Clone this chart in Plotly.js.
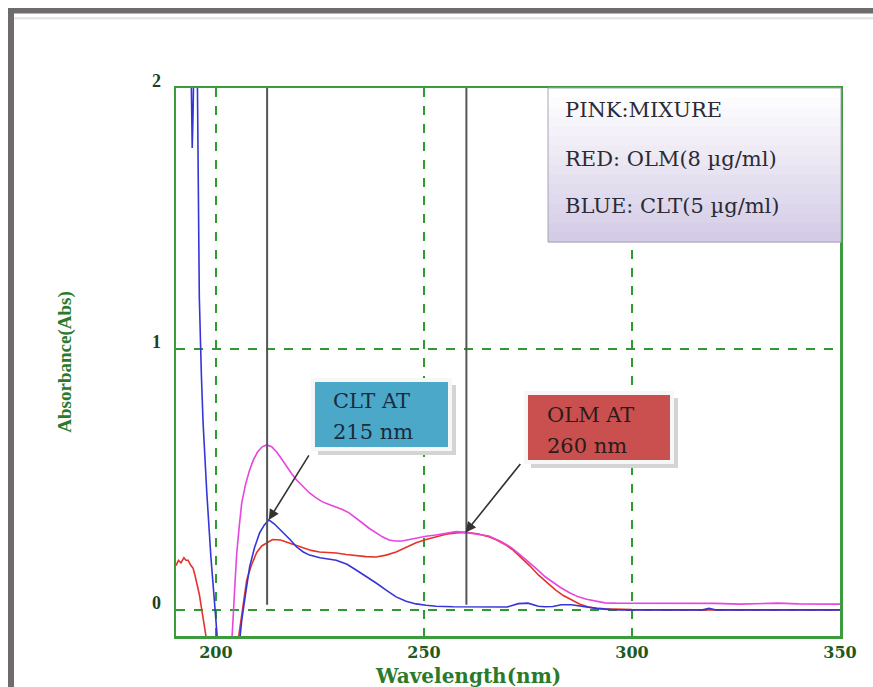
<!DOCTYPE html>
<html>
<head>
<meta charset="utf-8">
<script src="https://cdn.plot.ly/plotly-3.0.1.min.js"></script>
<style>
html,body{margin:0;padding:0;background:#fff;}
#chart{width:873px;height:687px;}
</style>
</head>
<body>
<div id="chart"></div>
<script>
// ---- DATA ----
const blueX = [194.0,194.3,194.5,194.7,195.5,195.7,196.0,196.5,196.9,197.8,198.8,199.8,200.6,201.5,203.0,204.5,205.5,206.2,207.2,208.1,209.3,210.5,211.6,212.7,214.0,216.0,217.8,219.4,221.0,222.5,225.0,228.9,231.5,233.7,236.0,238.5,241.0,243.3,245.7,248.1,250.5,252.9,257,262,266,270,272.7,275,277.5,279,281,283,285.4,288,289.5,291.5,293.5,295,298,305,312,317,318.5,320,328,336,345,350];
const blueY = [2.1,1.77,1.9,2.1,2.1,1.55,1.2,0.9,0.72,0.45,0.2,0.0,-0.15,-0.35,-0.45,-0.35,-0.15,-0.04,0.07,0.165,0.24,0.295,0.325,0.345,0.33,0.3,0.27,0.241,0.222,0.21,0.2,0.19,0.175,0.153,0.13,0.103,0.075,0.05,0.033,0.023,0.018,0.014,0.012,0.011,0.012,0.011,0.024,0.026,0.014,0.012,0.013,0.02,0.02,0.013,0.01,0.006,0.003,0.001,0.0,0.0,0.0,0.0,0.006,0.0,0.0,0.0,0.0,0.0];

const redX = [190.4,191.0,191.6,192.3,192.8,193.3,194.0,194.5,195.0,195.5,196.0,196.6,197.6,199.0,201.0,203.0,204.5,205.3,206.2,207.4,208.5,209.8,211.0,212.2,213.6,215.5,217.0,219.0,220.8,222.9,224.9,226.9,228.9,231.3,233.7,236.1,238.5,240.9,243.3,245.7,248.1,250.5,252.9,255.3,257.7,260.0,262.8,265.6,267.6,269.6,271.5,273.4,275.5,277.5,279.6,281.6,283.5,285.4,287.5,289.5,291.5,293.5,296,300,310,320,330,340,350];
const redY = [0.17,0.19,0.18,0.2,0.19,0.19,0.17,0.16,0.13,0.1,0.06,0.0,-0.1,-0.3,-0.5,-0.5,-0.25,-0.12,-0.02,0.115,0.17,0.22,0.245,0.257,0.27,0.268,0.26,0.248,0.237,0.228,0.222,0.22,0.218,0.212,0.207,0.204,0.203,0.21,0.222,0.24,0.257,0.27,0.28,0.29,0.295,0.297,0.292,0.28,0.267,0.25,0.228,0.2,0.168,0.134,0.104,0.077,0.055,0.038,0.022,0.011,0.006,0.004,0.002,0.001,0.0,0.0,0.0,0.0,0.0];

const pinkX = [202.0,203.2,204.1,204.5,205.0,205.6,206.2,207.1,208.1,209.0,210.0,211.1,212.2,213.4,214.6,215.8,217.0,218.2,219.4,221.0,222.5,224.0,225.6,227.2,228.9,230.4,232.0,233.6,235.2,236.8,238.5,240.0,241.6,243.1,244.7,246.4,248.1,250.5,252.9,255.3,257.7,260.0,263.0,265.6,268.5,271.1,273.2,275.2,277.2,279.2,281.1,283.0,285.0,287.1,289.1,291.1,293.5,296,300,305,312,320,326,330,335,340,345,350];
const pinkY = [-0.6,-0.3,-0.04,0.08,0.218,0.32,0.41,0.48,0.536,0.575,0.605,0.625,0.632,0.625,0.605,0.578,0.548,0.522,0.498,0.472,0.448,0.43,0.414,0.404,0.395,0.385,0.372,0.354,0.333,0.313,0.295,0.28,0.268,0.264,0.264,0.27,0.276,0.282,0.287,0.293,0.3,0.297,0.29,0.283,0.262,0.238,0.21,0.184,0.155,0.126,0.104,0.084,0.066,0.05,0.041,0.035,0.027,0.026,0.026,0.025,0.026,0.025,0.022,0.025,0.026,0.023,0.022,0.022];

const markerWavelengths = [212.3, 260.2];
const xTicks = [200, 250, 300, 350];
const yTicks = [0, 1, 2];
const xTitle = "Wavelength(nm)";
const yTitle = "Absorbance(Abs)";
const legendLines = ["PINK:MIXURE", "RED: OLM(8 \u00b5g/ml)", "BLUE: CLT(5 \u00b5g/ml)"];
const cltLabel = ["CLT AT", "215 nm"];
const olmLabel = ["OLM AT", "260 nm"];
const cltPeak = [212.7, 0.345];
const olmPeak = [260.0, 0.297];

// ---- layout helpers (pixel -> paper) ----
const L = 176, T = 88, W = 664, H = 548;
const px = x => (x - L) / W;
const py = y => (T + H - y) / H;

const serif = "Liberation Serif, Times New Roman, serif";
const wideSerif = "DejaVu Serif, serif";
const green = "#3d9a3d";
const gridGreen = "#2f9a2f";

const shapes = [];
// outer frame
shapes.push({type:"rect", xref:"paper", yref:"paper", x0:px(8), x1:px(880), y0:py(8), y1:py(13.5), fillcolor:"#6f6b6b", line:{width:0}, layer:"below"});
shapes.push({type:"rect", xref:"paper", yref:"paper", x0:px(8), x1:px(14), y0:py(8), y1:py(700), fillcolor:"#6f6b6b", line:{width:0}, layer:"below"});
shapes.push({type:"rect", xref:"paper", yref:"paper", x0:px(14), x1:px(880), y0:py(17), y1:py(19.5), fillcolor:"#e6e6e6", line:{width:0}, layer:"below"});

// vertical marker lines
markerWavelengths.forEach(w => {
  shapes.push({type:"line", xref:"x", yref:"y", x0:w, x1:w, y0:0.02, y1:2, line:{color:"#555555", width:2}, layer:"above"});
});

// legend box with vertical gradient
const nStripes = 16;
const gx0 = px(548), gx1 = px(841), gTop = 88, gBot = 242;
for (let i = 0; i < nStripes; i++) {
  const t = i / (nStripes - 1);
  const r = Math.round(255 - t * (255 - 212));
  const g = Math.round(255 - t * (255 - 204));
  const b = Math.round(255 - t * (255 - 230));
  const y0 = gTop + (gBot - gTop) * i / nStripes;
  const y1 = gTop + (gBot - gTop) * (i + 1) / nStripes + 0.6;
  shapes.push({type:"rect", xref:"paper", yref:"paper", x0:gx0, x1:gx1, y0:py(y1), y1:py(y0), fillcolor:`rgb(${r},${g},${b})`, line:{width:0}, layer:"above"});
}
shapes.push({type:"rect", xref:"paper", yref:"paper", x0:gx0, x1:gx1, y0:py(gBot), y1:py(gTop), fillcolor:"rgba(0,0,0,0)", line:{color:"#a8a4b4", width:1}, layer:"above"});

// annotation boxes (shadow, white rim, coloured box)
function box(x0, y0, x1, y1, col) {
  shapes.push({type:"rect", xref:"paper", yref:"paper", x0:px(x0+3), x1:px(x1+8), y0:py(y1+8), y1:py(y0+3), fillcolor:"#d4d4d4", line:{width:0}, layer:"above"});
  shapes.push({type:"rect", xref:"paper", yref:"paper", x0:px(x0-4), x1:px(x1+4), y0:py(y1+4), y1:py(y0-4), fillcolor:"#f7f7f7", line:{width:0}, layer:"above"});
  shapes.push({type:"rect", xref:"paper", yref:"paper", x0:px(x0), x1:px(x1), y0:py(y1), y1:py(y0), fillcolor:col, line:{width:0}, layer:"above"});
}
box(315, 382, 448, 447, "#4ba8c9");
box(528, 395, 670, 460, "#c9504f");

const annotations = [];
legendLines.forEach((s, i) => {
  annotations.push({xref:"paper", yref:"paper", x:px(563), y:py([110,159,206][i]), xanchor:"left", yanchor:"middle", showarrow:false, text:s, font:{family:wideSerif, size:21, color:"#2b2a35"}});
});
cltLabel.forEach((s, i) => {
  annotations.push({xref:"paper", yref:"paper", x:px(331), y:py([401,432][i]), xanchor:"left", yanchor:"middle", showarrow:false, text:s, font:{family:wideSerif, size:21, color:"#1b2b3b"}});
});
olmLabel.forEach((s, i) => {
  annotations.push({xref:"paper", yref:"paper", x:px(545), y:py([415,446][i]), xanchor:"left", yanchor:"middle", showarrow:false, text:s, font:{family:wideSerif, size:21, color:"#2b1b1b"}});
});
// arrows
annotations.push({xref:"x", yref:"y", x:cltPeak[0], y:cltPeak[1], ax:41, ay:-66, showarrow:true, arrowhead:2, arrowsize:1.3, arrowwidth:1.6, arrowcolor:"#333333", text:""});
annotations.push({xref:"x", yref:"y", x:olmPeak[0], y:olmPeak[1], ax:56, ay:-70, showarrow:true, arrowhead:2, arrowsize:1.3, arrowwidth:1.6, arrowcolor:"#333333", text:""});
// x axis title (sits left of centre in the reference)
annotations.push({xref:"paper", yref:"paper", x:px(468), y:py(676), xanchor:"center", yanchor:"middle", showarrow:false, text:xTitle, font:{family:wideSerif, size:20, color:"#2a7a2a", weight:"bold"}});

const traces = [
  {x:redX, y:redY, type:"scatter", mode:"lines", line:{color:"#e5322b", width:1.6}, name:"OLM"},
  {x:pinkX, y:pinkY, type:"scatter", mode:"lines", line:{color:"#e645df", width:1.6}, name:"Mixture"},
  {x:blueX, y:blueY, type:"scatter", mode:"lines", line:{color:"#3535d8", width:1.6}, name:"CLT"}
];

const layout = {
  width:873, height:687,
  margin:{l:L, r:873-L-W, t:T, b:687-T-H, pad:0},
  paper_bgcolor:"rgba(0,0,0,0)", plot_bgcolor:"#ffffff",
  showlegend:false,
  xaxis:{
    range:[190.4, 350], tickvals:xTicks, ticktext:xTicks.map(String),
    showgrid:true, gridcolor:gridGreen, griddash:"dash", gridwidth:1.3,
    zeroline:false, showline:true, mirror:true, linecolor:green, linewidth:2.5,
    ticks:"", ticklabelstandoff:0,
    tickfont:{family:wideSerif, size:16, color:"#1e5a1e", weight:"bold"},
    automargin:false
  },
  yaxis:{
    range:[-0.1, 2], tickvals:yTicks, ticktext:yTicks.map(String),
    showgrid:true, gridcolor:gridGreen, griddash:"dash", gridwidth:1.3,
    zeroline:false, showline:true, mirror:true, linecolor:green, linewidth:2.5,
    ticks:"", ticklabelstandoff:9, ticklabelshift:-7,
    tickfont:{family:serif, size:18, color:"#1f3f1f", weight:"bold"},
    title:{text:yTitle, font:{family:serif, size:19, color:"#2a7a2a", weight:"bold"}, standoff:76},
    automargin:false
  },
  shapes:shapes,
  annotations:annotations
};

Plotly.newPlot("chart", traces, layout, {displayModeBar:false, staticPlot:true});
</script>
</body>
</html>
